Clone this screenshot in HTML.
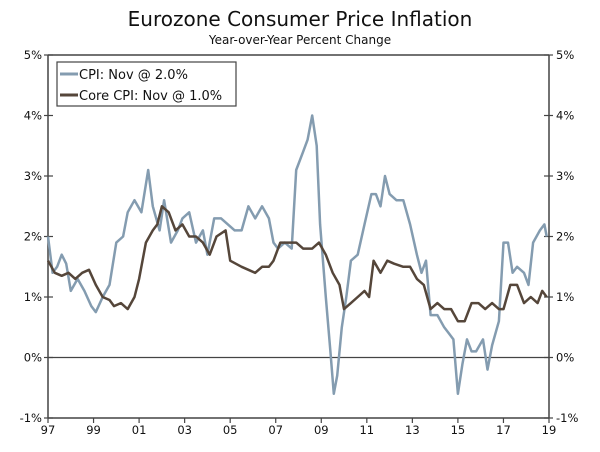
<!DOCTYPE html>
<html><head><meta charset="utf-8"><style>
body{margin:0;background:#fff;}
svg{display:block;font-family:"DejaVu Sans","Liberation Sans",sans-serif;}
</style></head><body>
<svg id="chart" width="600" height="452">
<text x="300" y="26" text-anchor="middle" font-size="20" fill="#111">Eurozone Consumer Price Inflation</text>
<text x="300" y="44" text-anchor="middle" font-size="12" fill="#111">Year-over-Year Percent Change</text>
<g id="axes"></g>
<g id="series"></g>
<g>
<rect x="57" y="62" width="179" height="44" fill="#fff" stroke="#444" stroke-width="1.2"/>
<line x1="60" y1="74" x2="78" y2="74" stroke="#849cb0" stroke-width="3"/>
<text x="79" y="79" font-size="13" fill="#111">CPI: Nov @ 2.0%</text>
<line x1="60" y1="95" x2="78" y2="95" stroke="#55463a" stroke-width="3"/>
<text x="79" y="100" font-size="13" fill="#111">Core CPI: Nov @ 1.0%</text>
</g>
</svg>
<script>
const yTicks=[-1,0,1,2,3,4,5];
const xTicks=[1997,1999,2001,2003,2005,2007,2009,2011,2013,2015,2017,2019];
const cpiX=[1997.0,1997.2,1997.4,1997.6,1997.8,1998.0,1998.3,1998.6,1998.9,1999.1,1999.4,1999.7,2000.0,2000.3,2000.5,2000.8,2001.1,2001.4,2001.6,2001.9,2002.1,2002.4,2002.7,2002.9,2003.2,2003.5,2003.8,2004.0,2004.3,2004.6,2004.9,2005.2,2005.5,2005.8,2006.1,2006.4,2006.7,2006.9,2007.1,2007.4,2007.7,2007.9,2008.2,2008.4,2008.6,2008.8,2008.95,2009.2,2009.4,2009.55,2009.7,2009.9,2010.1,2010.3,2010.6,2010.9,2011.2,2011.4,2011.6,2011.8,2012.0,2012.3,2012.6,2012.9,2013.2,2013.4,2013.6,2013.8,2014.1,2014.4,2014.6,2014.8,2015.0,2015.2,2015.4,2015.6,2015.8,2016.1,2016.3,2016.5,2016.8,2017.0,2017.2,2017.4,2017.6,2017.9,2018.1,2018.3,2018.6,2018.8,2018.9];
const cpiY=[2.0,1.4,1.5,1.7,1.55,1.1,1.3,1.1,0.85,0.75,1.0,1.2,1.9,2.0,2.4,2.6,2.4,3.1,2.5,2.1,2.6,1.9,2.1,2.3,2.4,1.9,2.1,1.7,2.3,2.3,2.2,2.1,2.1,2.5,2.3,2.5,2.3,1.9,1.8,1.9,1.8,3.1,3.4,3.6,4.0,3.5,2.2,1.0,0.1,-0.6,-0.3,0.5,1.0,1.6,1.7,2.2,2.7,2.7,2.5,3.0,2.7,2.6,2.6,2.2,1.7,1.4,1.6,0.7,0.7,0.5,0.4,0.3,-0.6,-0.1,0.3,0.1,0.1,0.3,-0.2,0.2,0.6,1.9,1.9,1.4,1.5,1.4,1.2,1.9,2.1,2.2,2.0];
const coreX=[1997.0,1997.3,1997.6,1997.9,1998.2,1998.5,1998.8,1999.1,1999.4,1999.7,1999.9,2000.2,2000.5,2000.8,2001.0,2001.3,2001.6,2001.8,2002.0,2002.3,2002.6,2002.9,2003.2,2003.5,2003.8,2004.1,2004.4,2004.8,2005.0,2005.5,2005.8,2006.1,2006.4,2006.7,2006.9,2007.2,2007.6,2007.9,2008.2,2008.6,2008.9,2009.2,2009.5,2009.8,2010.0,2010.3,2010.6,2010.9,2011.1,2011.3,2011.6,2011.9,2012.2,2012.6,2012.9,2013.2,2013.5,2013.8,2014.1,2014.4,2014.7,2015.0,2015.3,2015.6,2015.9,2016.2,2016.5,2016.8,2017.0,2017.3,2017.6,2017.9,2018.2,2018.5,2018.7,2018.9];
const coreY=[1.6,1.4,1.35,1.4,1.3,1.4,1.45,1.2,1.0,0.95,0.85,0.9,0.8,1.0,1.3,1.9,2.1,2.2,2.5,2.4,2.1,2.2,2.0,2.0,1.9,1.7,2.0,2.1,1.6,1.5,1.45,1.4,1.5,1.5,1.6,1.9,1.9,1.9,1.8,1.8,1.9,1.7,1.4,1.2,0.8,0.9,1.0,1.1,1.0,1.6,1.4,1.6,1.55,1.5,1.5,1.3,1.2,0.8,0.9,0.8,0.8,0.6,0.6,0.9,0.9,0.8,0.9,0.8,0.8,1.2,1.2,0.9,1.0,0.9,1.1,1.0];
const NS="http://www.w3.org/2000/svg";
const L=48,R=549,T=55,B=418;
const xs=v=>L+(v-1997)/(2019-1997)*(R-L);
const ys=v=>B-(v+1)/6*(B-T);
function mk(tag,attrs,parent){const e=document.createElementNS(NS,tag);for(const k in attrs)e.setAttribute(k,attrs[k]);parent.appendChild(e);return e;}
const ax=document.getElementById('axes');
let e=mk('line',{x1:L,y1:T,x2:R,y2:T,stroke:'#444','stroke-width':1.5},ax);


e=mk('line',{x1:L,y1:T,x2:L,y2:B,stroke:'#444','stroke-width':1.5},ax);


e=mk('line',{x1:R,y1:T,x2:R,y2:B,stroke:'#444','stroke-width':1.5},ax);


e=mk('line',{x1:L,y1:B,x2:R,y2:B,stroke:'#444','stroke-width':1.5},ax);


e=mk('line',{x1:L,y1:ys(0),x2:R,y2:ys(0),stroke:'#444','stroke-width':1.2},ax);


yTicks.forEach(v=>{
 const y=ys(v);
 let t=mk('line',{x1:L-4,y1:y,x2:L+5,y2:y,stroke:'#444','stroke-width':1.2},ax);
 
 
 t=mk('line',{x1:R-5,y1:y,x2:R+4,y2:y,stroke:'#444','stroke-width':1.2},ax);
 
 
 let l=mk('text',{x:L-6,y:y+4,'text-anchor':'end','font-size':11.5,fill:'#111'},ax);l.textContent=v+'%';
 
 
 l=mk('text',{x:R+7,y:y+4,'font-size':11.5,fill:'#111'},ax);l.textContent=v+'%';
 
 
});
xTicks.forEach(v=>{
 const x=xs(v);
 let t=mk('line',{x1:x,y1:B,x2:x,y2:B+5,stroke:'#444','stroke-width':1.2},ax);
 
 
 let l=mk('text',{x:x,y:B+16,'text-anchor':'middle','font-size':11.5,fill:'#111'},ax);l.textContent=String(v).slice(2);
 
 
});
const sg=document.getElementById('series');
function path(X,Y){return X.map((x,i)=>(i?'L':'M')+xs(x).toFixed(1)+' '+ys(Y[i]).toFixed(1)).join(' ');}
let p=mk('path',{d:path(cpiX,cpiY),fill:'none',stroke:'#849cb0','stroke-width':2.5,'stroke-linejoin':'round'},sg);


p=mk('path',{d:path(coreX,coreY),fill:'none',stroke:'#55463a','stroke-width':2.5,'stroke-linejoin':'round'},sg);


</script>
</body></html>
